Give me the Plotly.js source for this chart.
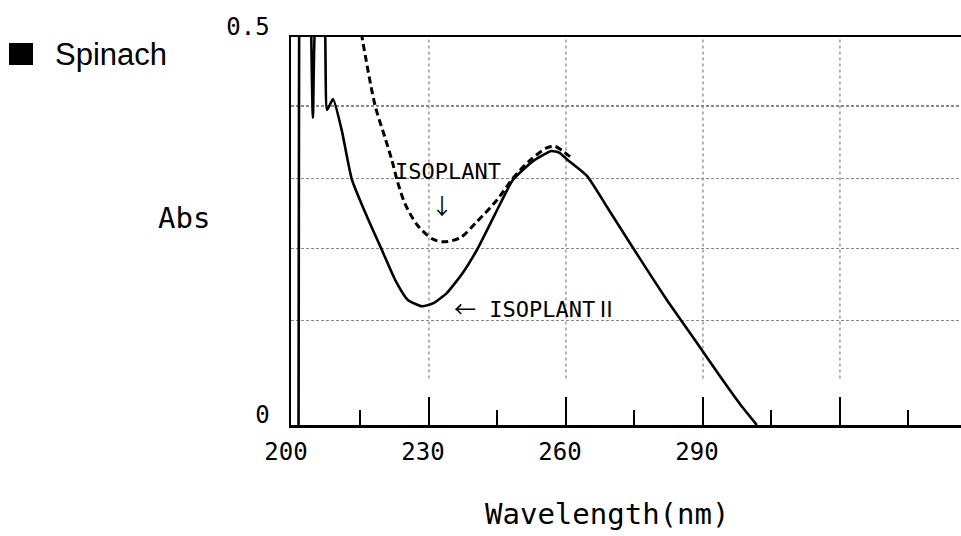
<!DOCTYPE html>
<html>
<head>
<meta charset="utf-8">
<script src="https://cdn.plot.ly/plotly-3.0.1.min.js"></script>
<style>html,body{margin:0;padding:0;background:#fff;}#chart{width:961px;height:536px;}</style>
</head>
<body>
<div id="chart"></div>
<script>
// ISOPLANT II (solid); null marks where the trace leaves the top of the chart
const wlIsoplant2 = [201.45, 201.5, 201.55, 201.6, 202.8, 204.1, 204.6, 205.6, 206.8, 207.7, 209.0, 210.9, 213.1, 216.4, 219.7, 222.6, 225.4, 228.5, 231.0, 233.9, 237.4, 240.5, 244.5, 248.4, 252.8, 256.8, 258.5, 260.5, 264.6, 269.0, 274.0, 278.0, 282.1, 285.0, 289.3, 293.7, 298.1, 301.8];
const absIsoplant2 = [0, 0.2, 0.4, 0.56, null, 0.56, 0.396, 0.56, 0.56, 0.406, 0.420, 0.380, 0.317, 0.269, 0.2255, 0.187, 0.161, 0.153, 0.157, 0.170, 0.196, 0.2255, 0.272, 0.316, 0.340, 0.353, 0.351, 0.341, 0.321, 0.281, 0.2345, 0.198, 0.161, 0.1366, 0.1005, 0.0631, 0.0271, 0];
// ISOPLANT (dashed)
const wlIsoplant = [215.2, 218.2, 220.4, 221.9, 223.0, 224.7, 227.4, 230.7, 233.1, 236.8, 240.5, 244.9, 248.4, 252.1, 255.8, 257.6, 259.1, 261.3];
const absIsoplant = [0.505, 0.412, 0.370, 0.341, 0.316, 0.286, 0.258, 0.240, 0.236, 0.241, 0.262, 0.290, 0.318, 0.341, 0.357, 0.359, 0.354, 0.344];

const xTickVals = [200, 230, 260, 290, 320];
const xTickText = ['200', '230', '260', '290', ''];
const xMinorVals = [215, 245, 275, 305, 335];
const yTickVals = [0, 0.135, 0.227, 0.318, 0.411, 0.5];
const yTickText = ['0', '', '', '', '', '0.5'];
const xGridVals = [230, 260, 290, 320];

const mono = 'DejaVu Sans Mono, Liberation Mono, monospace';
const cjk = 'Noto Sans CJK JP';

const traces = [
  {x: wlIsoplant2, y: absIsoplant2, type: 'scatter', mode: 'lines', name: 'ISOPLANT Ⅱ', connectgaps: false,
   line: {color: '#000', width: 2.6, shape: 'spline', smoothing: 0.5}, showlegend: false},
  {x: wlIsoplant, y: absIsoplant, type: 'scatter', mode: 'lines', name: 'ISOPLANT',
   line: {color: '#000', width: 3, dash: '7px,4px', shape: 'spline', smoothing: 0.8}, showlegend: false}
];

const shapes = xGridVals.map(v => ({type: 'line', xref: 'x', yref: 'y', x0: v, x1: v, y0: 0.06, y1: 0.5,
  line: {color: '#8a8a8a', width: 1.3, dash: 'dot'}, layer: 'below'}));
shapes.push({type: 'rect', xref: 'paper', yref: 'paper', x0: -0.4209, x1: -0.3851, y0: 0.9278, y1: 0.9845,
  fillcolor: '#000', line: {width: 0}});

const layout = {
  width: 961, height: 536,
  margin: {l: 291, r: 0, t: 37, b: 111},
  paper_bgcolor: '#fff', plot_bgcolor: '#fff',
  showlegend: false,
  xaxis: {
    range: [199.8, 346.5], showline: true, mirror: true, linecolor: '#000', linewidth: 2.5,
    ticks: 'inside', ticklen: 28, tickwidth: 2, tickcolor: '#000',
    tickmode: 'array', tickvals: xTickVals, ticktext: xTickText,
    tickfont: {family: mono, size: 24, color: '#000'},
    ticklabelstandoff: 4, ticklabelshift: -6,
    minor: {tickmode: 'array', tickvals: xMinorVals, ticks: 'inside', ticklen: 15, tickwidth: 2, tickcolor: '#000', showgrid: false},
    showgrid: false, zeroline: false
  },
  yaxis: {
    range: [0, 0.5], showline: true, mirror: false, linecolor: '#000', linewidth: 2.5,
    ticks: '', tickmode: 'array', tickvals: yTickVals, ticktext: yTickText,
    tickfont: {family: mono, size: 24, color: '#000'},
    ticklabelstandoff: 14, ticklabelshift: -10,
    showgrid: true, gridcolor: '#8a8a8a', gridwidth: 1.2, griddash: '3px,2px', zeroline: false
  },
  shapes: shapes,
  annotations: [
    {xref: 'paper', yref: 'paper', x: -0.3552, y: 0.956, xanchor: 'left', yanchor: 'middle', showarrow: false,
     text: 'Spinach', font: {family: 'Liberation Sans, Arial, sans-serif', size: 31, color: '#000'}},
    {xref: 'paper', yref: 'paper', x: -0.159, y: 0.5335, xanchor: 'center', yanchor: 'middle', showarrow: false,
     text: 'Abs', font: {family: mono, size: 29, color: '#000'}},
    {xref: 'paper', yref: 'paper', x: 0.4716, y: -0.2294, xanchor: 'center', yanchor: 'middle', showarrow: false,
     text: 'Wavelength(nm)', font: {family: mono, size: 29, color: '#000'}},
    {xref: 'x', yref: 'y', x: 234.16, y: 0.327, xanchor: 'center', yanchor: 'middle', showarrow: false,
     text: 'ISOPLANT', font: {family: mono, size: 22, color: '#000'}},
    {xref: 'x', yref: 'y', x: 232.84, y: 0.2848, xanchor: 'center', yanchor: 'middle', showarrow: false,
     text: '↓', font: {family: cjk, size: 22, color: '#000'}},
    {xref: 'x', yref: 'y', x: 253.43, y: 0.152, xanchor: 'center', yanchor: 'middle', showarrow: false,
     text: '<span style="font-family:\'Noto Sans CJK JP\'">←</span> ISOPLANT<span style="font-family:\'Noto Sans CJK JP\'">Ⅱ</span>',
     font: {family: mono, size: 22, color: '#000'}}
  ]
};

Plotly.newPlot('chart', traces, layout, {displayModeBar: false, staticPlot: true});
</script>
</body>
</html>
